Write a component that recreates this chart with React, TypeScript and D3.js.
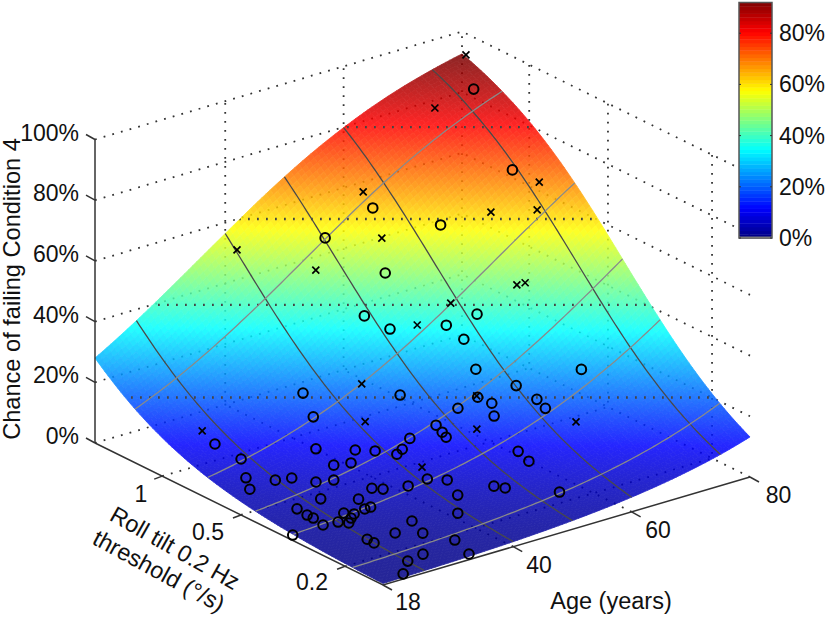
import React, { useEffect, useRef } from 'react';
import * as d3 from 'd3';

// surface table: chance of failing (%), rows = age, columns = threshold
const surfaceAges = [18, 25, 40, 50, 60, 75, 80];
const surfaceThresholds = [0.1432, 0.187, 0.316, 0.44, 0.67, 1.27, 1.807];
const surfaceChance = [
  [0.5, 0.85, 2.1, 3.6, 6.96, 17.7, 28.0],
  [0.74, 1.22, 2.97, 5.07, 9.75, 23.9, 36.3],
  [1.66, 2.65, 6.31, 10.6, 19.4, 41.5, 56.4],
  [2.85, 4.45, 10.3, 16.9, 29.4, 55.1, 69.3],
  [4.83, 7.43, 16.5, 25.9, 41.8, 68.1, 79.8],
  [10.3, 15.4, 30.9, 44.2, 62.0, 83.1, 90.3],
  [13.2, 19.4, 37.2, 51.1, 68.4, 86.8, 92.6],
];

// lines drawn on the surface
const ageContours = [25, 40, 50, 60, 75];
const thresholdContours = [0.187, 0.316, 0.44, 0.67, 1.27];
const levelRules = [15, 45.5, 73.8, 104.1];

// axis ticks
const ageTicks = [18, 40, 60, 80];
const thresholdTicks = [0.2, 0.5, 1];
const chanceTicks = [0, 20, 40, 60, 80, 100];
const colorbarTicks = [0, 20, 40, 60, 80];

// subjects: [age, log10 threshold, chance %]
const passedSubjects = [
  [77.6, 0.158, 86.6], [56.4, 0.064, 63.6], [49.5, 0.09, 56.6], [62.6, -0.055, 59.5], [53.6, -0.047, 48.5],
  [74.2, -0.067, 71.5], [60.8, -0.235, 38.8], [56.8, -0.208, 36.3], [57.6, -0.257, 33.3], [56.4, -0.33, 27.2],
  [67.6, -0.48, 27.1], [59.5, -0.414, 23.6], [60.7, -0.466, 20.6], [61.3, -0.485, 18.1], [56, -0.4, 19.2],
  [54.8, -0.436, 17.2], [52, -0.361, 18.2], [54.5, -0.38, 21.2], [48, -0.368, 15.2], [47.8, -0.396, 14.2],
  [47.8, -0.411, 13.2], [43.7, -0.365, 13.2], [46.7, -0.26, 21.3], [42.2, -0.37, 10.7], [41.2, -0.372, 9.7],
  [54.4, -0.537, 10.1], [54.4, -0.578, 8.6], [41.4, -0.484, 6.2], [43.3, -0.517, 6.2], [38.2, -0.483, 5.7],
  [42.2, -0.582, 4.6], [47.3, -0.605, 5.6], [48.1, -0.63, 5.6], [53.3, -0.72, 5.1], [39.3, -0.648, 3.1],
  [33.1, -0.613, 2.6], [32.1, -0.677, 1.9], [34.2, -0.752, 1.6], [28.2, -0.766, 1], [33.1, -0.831, 1],
  [25.1, -0.778, 1], [22.2, -0.826, 0.5], [48.7, -0.078, 38.5], [50.6, -0.133, 35.4], [37.1, -0.106, 20.9],
  [35.7, -0.177, 16.9], [22.4, -0.102, 12.4], [32.7, -0.255, 11.4], [37, -0.308, 10.8], [38.9, -0.341, 10.8],
  [23.9, -0.168, 9.4], [33.1, -0.314, 8.3], [35.4, -0.328, 8.3], [22.2, -0.225, 6.6], [21, -0.267, 5.3],
  [25, -0.274, 6.3], [27.2, -0.287, 6.3], [28.9, -0.341, 6.3], [31.2, -0.357, 6.3], [34.2, -0.435, 5.2],
  [35.2, -0.455, 5.2], [27.1, -0.4, 4.3], [31.1, -0.454, 4.2], [23.1, -0.4, 3.3], [22.9, -0.443, 3.2],
  [23.1, -0.462, 2.9], [22.9, -0.504, 2.5], [25, -0.514, 2.7], [27.2, -0.486, 3.2], [28.1, -0.505, 3.2],
  [27.1, -0.516, 2.9], [26, -0.532, 2.6], [30.3, -0.496, 3.2], [31.2, -0.498, 3.4], [29.2, -0.637, 1.9],
  [18, -0.499, 1.8], [25.1, -0.623, 1.6], [25.1, -0.649, 1.5],
];
const failedSubjects = [
  [80.8, 0.26, 91.7], [71.4, 0.166, 83.6], [56.9, 0.112, 66.6], [55.5, 0.009, 56.5], [38.9, 0.187, 54.6],
  [46.2, 0.051, 49.5], [58.7, -0.182, 41.4], [77.1, -0.104, 67.4], [74.8, -0.148, 61.4], [68.8, -0.107, 62.4],
  [67, -0.247, 45.4], [68, -0.256, 45.9], [53.7, -0.167, 36.4], [43, -0.197, 24.4], [40.8, -0.26, 15.9],
  [22.5, -0.051, 14.5], [42.4, -0.441, 7.7], [51.8, -0.438, 14.7], [63.2, -0.559, 15.7], [54.6, -0.374, 21.3],
];

const FONT = '"Liberation Sans", Arial, sans-serif';
const INK = '#333';
const MAX_COLOR = 92;

const ageUnit = d3.scaleLinear().domain([18, 80]).range([0, 1]);
const thresholdUnit = d3.scaleLog().domain([0.1432, 1.807]).range([0, 1]);
const chanceHeight = d3.scaleLinear().domain([0, 100]).range([0, 303.5]);
const jet = d3
  .scaleLinear<string>()
  .domain([0, 0.125, 0.375, 0.625, 0.875, 1].map((d) => d * MAX_COLOR))
  .range(['#000080', '#0000ff', '#00ffff', '#ffff00', '#ff0000', '#800000'])
  .clamp(true);

const AGE_MIN = 18;
const AGE_MAX = 80;
const THR_MIN = thresholdUnit.domain()[0];
const THR_MAX = thresholdUnit.domain()[1];

const project = (age: number, thr: number, chance: number): [number, number] => {
  const a = ageUnit(age);
  const t = thresholdUnit(thr);
  return [383 + 367 * a - 288 * t, 585 - 108 * a - 142 * t - chanceHeight(chance)];
};

const logit = (p: number) => Math.log(p / (100 - p));

// bilinear in logit space between the table's rows and columns
const chanceAt = (age: number, thr: number) => {
  const i = Math.min(Math.max(d3.bisectRight(surfaceAges, age) - 1, 0), surfaceAges.length - 2);
  const j = Math.min(Math.max(d3.bisectRight(surfaceThresholds, thr) - 1, 0), surfaceThresholds.length - 2);
  const fa = (age - surfaceAges[i]) / (surfaceAges[i + 1] - surfaceAges[i]);
  const ft = Math.log(thr / surfaceThresholds[j]) / Math.log(surfaceThresholds[j + 1] / surfaceThresholds[j]);
  const low = d3.interpolateNumber(logit(surfaceChance[i][j]), logit(surfaceChance[i][j + 1]))(ft);
  const high = d3.interpolateNumber(logit(surfaceChance[i + 1][j]), logit(surfaceChance[i + 1][j + 1]))(ft);
  const l = d3.interpolateNumber(low, high)(fa);
  return 100 / (1 + Math.exp(-l));
};

const STEPS = 90;
const ageSteps = d3.range(STEPS + 1).map((k) => ageUnit.invert(k / STEPS));
const thrSteps = d3.range(STEPS + 1).map((k) => thresholdUnit.invert(k / STEPS));
const onSurface = (age: number, thr: number) => project(age, thr, chanceAt(age, thr));

const App = () => {
  const ref = useRef<SVGSVGElement | null>(null);

  useEffect(() => {
    const svg = d3.select(ref.current);
    svg.selectAll('*').remove();
    const line = d3.line();

    const dotted = (g, pts) =>
      g
        .append('path')
        .attr('d', line(pts))
        .attr('fill', 'none')
        .attr('stroke', INK)
        .attr('stroke-width', 1.8)
        .attr('stroke-dasharray', '1.8 7.2');

    // box walls and floor
    const grid = svg.append('g');
    chanceTicks.forEach((c) => {
      dotted(grid, [project(AGE_MIN, THR_MAX, c), project(AGE_MAX, THR_MAX, c), project(AGE_MAX, THR_MIN, c)]);
    });
    ageTicks.slice(1, 3).forEach((age) => {
      dotted(grid, [project(age, THR_MIN, 0), project(age, THR_MAX, 0), project(age, THR_MAX, 100)]);
    });
    thresholdTicks.forEach((thr) => {
      dotted(grid, [project(AGE_MIN, thr, 0), project(AGE_MAX, thr, 0), project(AGE_MAX, thr, 100)]);
    });
    dotted(grid, [project(AGE_MAX, THR_MAX, 0), project(AGE_MAX, THR_MAX, 100)]);

    // surface
    const surface = svg.append('g').attr('opacity', 0.85);
    for (let i = STEPS - 1; i >= 0; i--) {
      for (let j = STEPS - 1; j >= 0; j--) {
        const color = jet(chanceAt((ageSteps[i] + ageSteps[i + 1]) / 2, Math.sqrt(thrSteps[j] * thrSteps[j + 1])));
        const corners = [
          onSurface(ageSteps[i], thrSteps[j]),
          onSurface(ageSteps[i + 1], thrSteps[j]),
          onSurface(ageSteps[i + 1], thrSteps[j + 1]),
          onSurface(ageSteps[i], thrSteps[j + 1]),
        ];
        surface
          .append('path')
          .attr('d', line(corners) + 'Z')
          .attr('fill', color)
          .attr('stroke', color)
          .attr('stroke-width', 0.8);
      }
    }

    // outline of the surface, for clipping the level rules
    const outline = [
      ...ageSteps.map((a) => onSurface(a, THR_MIN)),
      ...thrSteps.map((t) => onSurface(AGE_MAX, t)),
      ...ageSteps.slice().reverse().map((a) => onSurface(a, THR_MAX)),
      ...thrSteps.slice().reverse().map((t) => onSurface(AGE_MIN, t)),
    ];
    svg.append('clipPath').attr('id', 'surface-clip').append('path').attr('d', line(outline) + 'Z');
    const rules = svg.append('g').attr('clip-path', 'url(#surface-clip)');
    levelRules.forEach((level) => {
      const y = project(AGE_MIN, THR_MAX, level)[1];
      dotted(rules, [[95, y], [750, y]]).attr('stroke-width', 2.3).attr('stroke', '#444');
    });

    // contours on the surface
    ageContours.forEach((age) => {
      svg
        .append('path')
        .attr('d', line(thrSteps.map((t) => onSurface(age, t))))
        .attr('fill', 'none')
        .attr('stroke', '#4a4a4a')
        .attr('stroke-width', 1.3);
    });
    thresholdContours.forEach((thr) => {
      svg
        .append('path')
        .attr('d', line(ageSteps.map((a) => onSurface(a, thr))))
        .attr('fill', 'none')
        .attr('stroke', '#8a8a8a')
        .attr('stroke-width', 1.3);
    });

    // solid axes and ticks
    const solid = (pts) =>
      svg.append('path').attr('d', line(pts)).attr('fill', 'none').attr('stroke', INK).attr('stroke-width', 1.5);
    solid([project(AGE_MIN, THR_MAX, 0), project(AGE_MIN, THR_MAX, 100)]);
    solid([project(AGE_MIN, THR_MAX, 0), project(AGE_MIN, THR_MIN, 0), project(AGE_MAX, THR_MIN, 0)]);
    chanceTicks.forEach((c) => {
      const [x, y] = project(AGE_MIN, THR_MAX, c);
      solid([[x, y], [x - 9, y - 5]]);
    });
    thresholdTicks.forEach((thr) => {
      const [x, y] = project(AGE_MIN, thr, 0);
      solid([[x, y], [x - 8, y + 3]]);
    });
    ageTicks.forEach((age) => {
      const [x, y] = project(age, THR_MIN, 0);
      solid([[x, y], [x + 9, y + 5]]);
    });

    // subjects
    const markers = svg.append('g').attr('fill', 'none').attr('stroke', '#000');
    passedSubjects.forEach(([age, logThr, chance]) => {
      const [x, y] = project(age, Math.pow(10, logThr), chance);
      markers.append('circle').attr('cx', x).attr('cy', y).attr('r', 4.8).attr('stroke-width', 2);
    });
    failedSubjects.forEach(([age, logThr, chance]) => {
      const [x, y] = project(age, Math.pow(10, logThr), chance);
      markers
        .append('path')
        .attr('d', `M${x - 3.5},${y - 3.5}L${x + 3.5},${y + 3.5}M${x - 3.5},${y + 3.5}L${x + 3.5},${y - 3.5}`)
        .attr('stroke-width', 1.7);
    });

    // text
    const label = (x, y, s, anchor = 'middle', transform = null, size = 23) => {
      const t = svg
        .append('text')
        .attr('x', x)
        .attr('y', y)
        .attr('text-anchor', anchor)
        .attr('font-family', FONT)
        .attr('font-size', size)
        .attr('fill', '#111')
        .text(s);
      if (transform) t.attr('transform', transform);
      return t;
    };
    chanceTicks.forEach((c) => {
      const y = project(AGE_MIN, THR_MAX, c)[1];
      label(79, y + 1, `${c}%`, 'end');
    });
    [[1, 141, 502], [0.5, 208, 540], [0.2, 312, 590]].forEach(([v, x, y]) => label(x, y, `${v}`));
    [[18, 408, 610], [40, 539, 573], [60, 658, 538], [80, 778.5, 503]].forEach(([v, x, y]) => label(x, y, `${v}`));
    label(0, 0, 'Chance of failing Condition 4', 'middle', 'translate(20,289) rotate(-90)', 23.6);
    label(611, 609, 'Age (years)', 'middle', null, 23.5);
    label(0, 0, 'Roll tilt 0.2 Hz', 'middle', 'translate(171,555) rotate(29.5)', 23.4);
    label(0, 0, 'threshold (°/s)', 'middle', 'translate(155,578) rotate(28.5)', 23.4);

    // colorbar
    const barY = d3.scaleLinear().domain([0, MAX_COLOR]).range([238, 2.5]);
    const bar = svg.append('g');
    const slices = 64;
    d3.range(slices).forEach((k) => {
      const lo = (k / slices) * MAX_COLOR;
      const hi = ((k + 1) / slices) * MAX_COLOR;
      bar
        .append('rect')
        .attr('x', 739)
        .attr('y', barY(hi))
        .attr('width', 33)
        .attr('height', barY(lo) - barY(hi) + 0.4)
        .attr('fill', jet((lo + hi) / 2));
    });
    bar
      .append('rect')
      .attr('x', 739)
      .attr('y', 2.5)
      .attr('width', 33)
      .attr('height', 235.5)
      .attr('fill', 'none')
      .attr('stroke', '#555')
      .attr('stroke-width', 1.5);
    bar.append('rect').attr('x', 739).attr('y', 236.5).attr('width', 33).attr('height', 2).attr('fill', '#777');
    colorbarTicks.forEach((c) => {
      const y = barY(c);
      bar.append('path').attr('d', `M739,${y}h2M772,${y}h-2`).attr('stroke', '#333').attr('stroke-width', 1);
      label(779, y + 8, `${c}%`, 'start');
    });
  }, []);

  return <svg ref={ref} width={827} height={620} style={{ position: 'absolute', left: 0, top: 0 }} />;
};

export default App;
